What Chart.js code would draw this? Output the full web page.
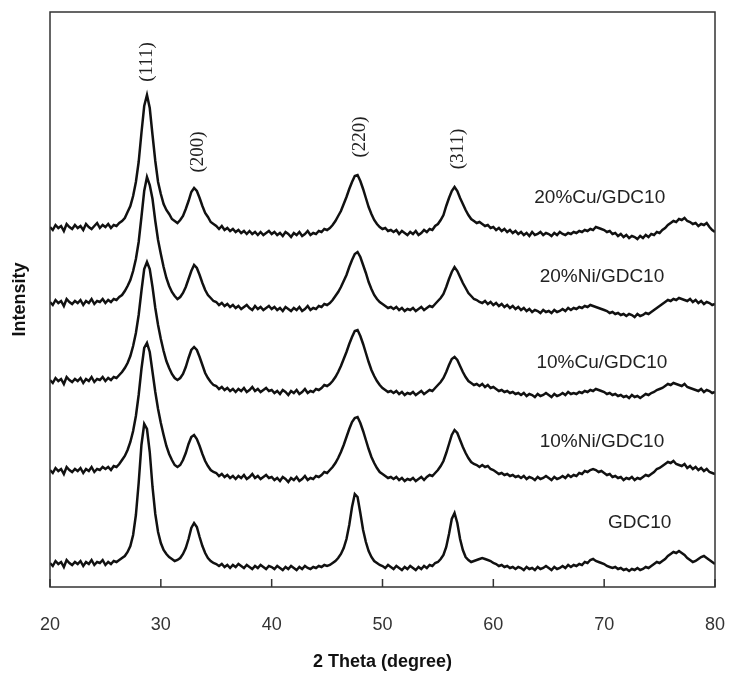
<!DOCTYPE html>
<html>
<head>
<meta charset="utf-8">
<script src="https://cdn.jsdelivr.net/npm/chart.js@4.4.1/dist/chart.umd.min.js"></script>
<style>
  body { margin: 0; background: #fff; }
  #wrap { width: 729px; height: 675px; }
</style>
</head>
<body>
<div id="wrap"><canvas id="xrd" width="729" height="675"></canvas></div>
<script>
// 2 theta scan, 20 -> 80 deg, one reading every 0.25 deg
const thetaStart = 20;
const thetaStep = 0.25;

const xTicks = [20, 30, 40, 50, 60, 70, 80];

// intensities as plotted (each pattern already shifted up for stacking), arb. units
const cu20 = [
  360,357,362,359,361,356,363,360,358,362,359,361,357,363,360,358,361,364,359,362,
  360,363,359,362,361,364,366,369,375,381,391,405,425,454,481,492,479,452,426,405,
  393,383,377,373,368,366,364,367,371,378,386,395,399,396,389,381,374,370,365,363,
  361,358,361,357,359,356,358,355,357,354,356,353,356,353,355,352,355,352,354,356,
  353,355,352,354,351,355,353,350,354,352,355,351,353,356,352,354,353,356,355,358,
  357,359,362,366,371,376,383,390,398,405,411,412,406,398,389,380,373,367,363,360,
  358,359,356,357,355,357,353,356,354,352,355,353,356,352,354,357,355,358,357,361,
  363,367,372,381,389,396,400,396,389,383,377,372,368,366,364,365,363,361,362,359,
  360,357,359,356,358,355,357,354,356,353,355,352,354,351,355,352,353,355,352,354,
  353,351,354,352,355,353,352,354,353,355,354,356,355,357,356,358,357,360,359,358,
  357,355,356,353,354,351,353,350,352,349,351,350,348,351,349,352,350,353,352,355,
  354,357,359,362,364,366,365,368,367,369,366,365,363,364,361,363,362,364,360,357,
  355
];
const ni20 = [
  285,282,287,284,286,281,288,285,283,286,284,287,282,286,284,288,283,286,285,288,
  284,287,285,288,287,290,292,296,301,307,316,328,345,370,396,410,402,388,366,347,
  333,320,309,301,295,291,288,290,294,300,308,316,322,319,312,304,297,292,289,286,
  285,282,284,281,283,280,282,279,281,278,280,282,279,277,281,278,280,277,279,281,
  278,280,277,279,276,280,278,276,279,277,280,276,278,281,277,279,278,281,280,283,
  282,284,287,291,295,300,306,312,320,327,333,335,330,322,314,305,298,292,288,285,
  283,281,279,280,278,280,277,279,276,278,277,279,276,278,280,277,279,281,280,283,
  286,289,293,300,308,315,320,316,310,304,299,294,291,288,287,285,284,286,283,285,
  282,284,281,283,280,282,279,281,278,280,277,279,276,278,275,277,276,274,277,275,
  276,274,277,275,276,278,276,279,277,279,278,280,279,281,280,282,281,280,279,278,
  277,276,274,275,273,274,272,273,271,273,272,270,273,271,272,274,273,275,277,279,
  281,283,285,287,286,288,287,289,288,287,286,288,285,287,284,286,283,285,284,282,
  283
];
const cu10 = [
  207,204,209,206,208,203,210,207,205,208,206,209,204,208,206,210,205,208,207,210,
  206,209,207,210,209,212,215,219,224,231,241,254,272,296,318,325,318,300,279,262,
  248,236,226,219,213,209,207,209,213,220,229,237,240,237,230,222,214,209,205,202,
  201,198,200,197,199,196,198,195,198,196,199,195,197,200,196,198,195,197,199,196,
  197,194,196,193,197,195,192,196,194,197,193,195,198,194,196,195,198,197,199,202,
  201,203,206,210,215,221,228,235,243,250,256,257,251,243,234,225,217,211,206,202,
  199,197,195,196,194,196,193,195,192,194,193,195,192,194,196,193,195,197,196,199,
  202,205,209,215,222,228,230,227,221,215,210,206,204,202,203,201,203,200,202,199,
  200,198,196,197,195,196,194,195,193,194,192,194,191,193,192,190,193,191,192,194,
  192,190,193,191,192,194,192,195,193,194,193,195,194,196,195,197,196,198,197,196,
  195,193,194,192,193,191,192,190,191,189,192,190,191,189,191,193,192,194,195,197,
  198,199,201,203,202,204,203,202,201,203,200,199,198,197,196,198,195,197,196,194,
  195
];
const ni10 = [
  117,114,119,116,118,113,120,117,115,118,116,119,114,118,116,120,115,118,117,120,
  118,120,117,121,120,123,127,131,137,145,156,171,192,218,239,244,235,215,195,178,
  164,152,141,133,127,122,120,122,127,134,143,150,152,148,141,133,126,121,117,115,
  114,111,113,110,112,109,111,108,111,109,112,108,110,113,109,111,108,110,112,109,
  110,107,109,106,110,108,105,109,107,110,106,108,111,107,109,108,111,110,112,115,
  114,117,120,124,129,135,142,150,158,165,169,170,164,156,147,138,130,124,119,115,
  113,111,109,110,108,110,107,109,106,108,107,109,106,108,110,107,110,112,111,114,
  117,121,126,134,143,152,157,154,147,140,134,129,125,123,122,120,122,120,121,118,
  117,115,113,114,112,113,111,112,110,111,109,111,108,110,109,107,110,108,109,111,
  109,107,110,108,109,111,109,112,110,112,111,114,113,116,115,117,118,117,115,116,
  114,112,113,110,111,109,110,107,109,108,110,107,109,108,110,112,111,113,115,118,
  119,121,123,125,124,126,123,122,121,123,119,121,118,120,117,119,116,118,115,114,
  113
];
const gdc10 = [
  24,21,26,23,25,20,27,24,22,25,23,26,21,25,23,27,22,25,24,27,
  22,25,23,26,25,27,29,31,35,41,52,72,104,142,163,158,135,100,73,55,
  44,37,33,30,28,26,27,29,33,39,48,59,64,60,50,41,34,29,26,24,
  23,21,23,20,22,19,22,20,23,21,19,22,20,18,21,19,22,20,18,21,
  20,18,21,19,17,20,18,21,19,17,20,18,21,19,18,20,19,21,20,22,
  21,22,24,26,29,33,39,48,62,80,93,90,74,57,45,36,30,26,24,22,
  21,19,22,20,18,21,19,17,20,18,21,19,17,20,18,21,19,22,21,24,
  25,28,32,40,53,68,74,64,48,37,30,27,25,26,27,28,29,28,27,26,
  24,23,21,22,20,21,19,20,18,20,19,17,20,18,19,17,20,18,19,21,
  19,17,20,18,19,21,19,22,20,22,21,23,22,25,24,27,28,26,25,24,
  23,21,20,19,20,18,19,17,18,16,18,17,19,17,18,20,19,21,23,25,
  24,26,28,31,33,35,34,36,34,32,29,27,25,26,28,30,31,29,27,25,
  23
];

const sampleNames = ['20%Cu/GDC10', '20%Ni/GDC10', '10%Cu/GDC10', '10%Ni/GDC10', 'GDC10'];
const sampleData = [cu20, ni20, cu10, ni10, gdc10];

// where the text sits, in data units (deg, intensity)
const sampleLabelX = [69.6, 69.8, 69.8, 69.8, 73.2];
const sampleLabelY = [389, 310, 224, 145, 64];
const peakNames = ['(111)', '(200)', '(220)', '(311)'];
const peakLabelX = [28.75, 33.35, 48.0, 56.8];
const peakLabelY = [525, 435, 450, 438];

function toPoints(arr) {
  return arr.map((v, i) => ({ x: thetaStart + i * thetaStep, y: v }));
}

// box around the plot + ticks pointing inwards + the text labels
const decorations = {
  id: 'decorations',
  afterDatasetsDraw(chart) {
    const c = chart.ctx;
    const a = chart.chartArea;
    const xs = chart.scales.x, ys = chart.scales.y;
    c.save();
    c.strokeStyle = '#333';
    c.lineWidth = 1.5;
    c.strokeRect(a.left, a.top, a.right - a.left, a.bottom - a.top);
    c.beginPath();
    xTicks.forEach(t => {
      const px = xs.getPixelForValue(t);
      c.moveTo(px, a.bottom);
      c.lineTo(px, a.bottom - 8);
    });
    c.stroke();

    c.fillStyle = '#222';
    c.font = '19px "Liberation Sans", Arial, sans-serif';
    c.textAlign = 'center';
    c.textBaseline = 'middle';
    sampleNames.forEach((n, i) => {
      c.fillText(n, xs.getPixelForValue(sampleLabelX[i]), ys.getPixelForValue(sampleLabelY[i]));
    });

    c.font = '19px "Liberation Serif", "Times New Roman", serif';
    peakNames.forEach((n, i) => {
      c.save();
      c.translate(xs.getPixelForValue(peakLabelX[i]), ys.getPixelForValue(peakLabelY[i]));
      c.rotate(-Math.PI / 2);
      c.fillText(n, 0, 0);
      c.restore();
    });
    c.restore();
  }
};

new Chart(document.getElementById('xrd'), {
  type: 'line',
  data: {
    datasets: sampleData.map((d, i) => ({
      label: sampleNames[i],
      data: toPoints(d),
      borderColor: '#111',
      borderWidth: 2.5,
      pointRadius: 0,
      tension: 0,
      fill: false
    }))
  },
  options: {
    responsive: false,
    animation: false,
    layout: { padding: { top: 12, right: 14, left: 0, bottom: 0 } },
    plugins: { legend: { display: false }, tooltip: { enabled: false } },
    scales: {
      x: {
        type: 'linear',
        min: 20,
        max: 80,
        grid: { display: false },
        border: { display: false },
        afterFit: s => { s.height = 88; s.paddingLeft = 0; s.paddingRight = 0; },
        afterBuildTicks: s => { s.ticks = xTicks.map(v => ({ value: v })); },
        ticks: {
          color: '#333',
          padding: 19,
          maxRotation: 0,
          font: { size: 18, family: '"Liberation Sans", Arial, sans-serif' }
        },
        title: {
          display: true,
          text: '2 Theta (degree)',
          color: '#111',
          padding: { top: 0, bottom: 2 },
          font: { size: 18, weight: 'bold', family: '"Liberation Sans", Arial, sans-serif' }
        }
      },
      y: {
        min: 0,
        max: 575,
        grid: { display: false },
        border: { display: false },
        ticks: { display: false },
        afterFit: s => { s.width = 50; },
        title: {
          display: true,
          text: 'Intensity',
          color: '#111',
          padding: { top: 9, bottom: 0 },
          font: { size: 18, weight: 'bold', family: '"Liberation Sans", Arial, sans-serif' }
        }
      }
    }
  },
  plugins: [decorations]
});
</script>
</body>
</html>
